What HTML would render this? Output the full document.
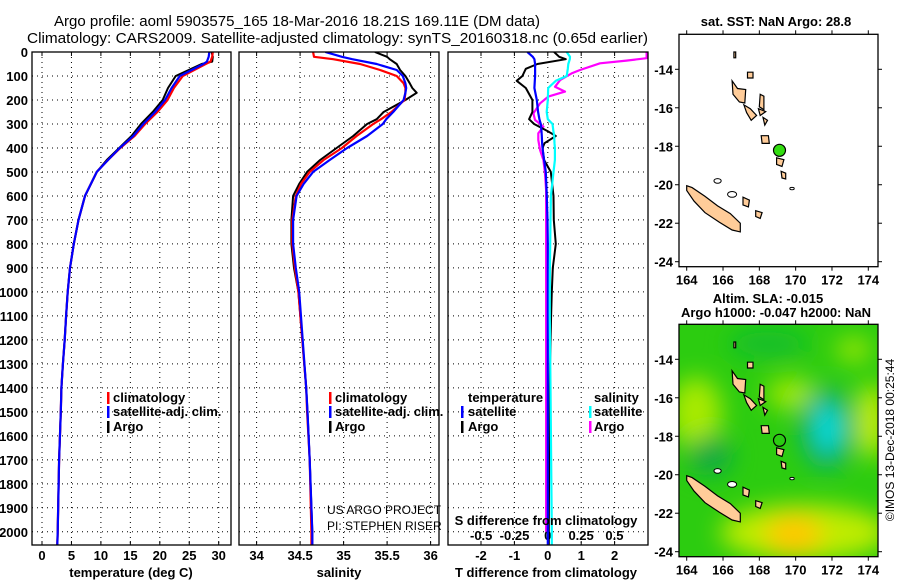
<!DOCTYPE html>
<html><head><meta charset="utf-8">
<style>
html,body{margin:0;padding:0;background:#fff;}
svg{display:block;font-family:"Liberation Sans",sans-serif;}
.t{font-weight:bold;font-size:13px;fill:#000;}
.tl{font-size:13px;fill:#000;font-weight:bold;}
</style></head>
<body>
<svg id="c" width="900" height="580" viewBox="0 0 900 580" xmlns="http://www.w3.org/2000/svg">
<defs>
<filter id="blur" x="-50%" y="-50%" width="200%" height="200%"><feGaussianBlur stdDeviation="12"/></filter>
<clipPath id="m2clip"><rect x="679" y="324" width="199" height="233"/></clipPath>
<clipPath id="p1clip"><rect x="32" y="52" width="199" height="493"/></clipPath>
<clipPath id="p2clip"><rect x="239" y="52" width="200" height="493"/></clipPath>
<clipPath id="p3clip"><rect x="448" y="52" width="200" height="493"/></clipPath>
</defs>
<text x="54" y="26" font-size="14.5" textLength="486" lengthAdjust="spacingAndGlyphs">Argo profile: aoml 5903575_165 18-Mar-2016 18.21S 169.11E (DM data)</text>
<text x="27" y="43" font-size="14.5" textLength="621" lengthAdjust="spacingAndGlyphs">Climatology: CARS2009. Satellite-adjusted climatology: synTS_20160318.nc (0.65d earlier)</text>
<g id="g"></g>
</svg>
<script>
// ---- data ----
var depthTicks = [0,100,200,300,400,500,600,700,800,900,1000,1100,1200,1300,1400,1500,1600,1700,1800,1900,2000];
var tempTicks = [0,5,10,15,20,25,30];
var salTicks = [34,34.5,35,35.5,36];
var salTickLabels = ['34','34.5','35','35.5','36'];
var tdTicks = [-2,-1,0,1,2];
var sdTicks = [-0.5,-0.25,0,0.25,0.5];
var sdTickLabels = ['-0.5','-0.25','0','0.25','0.5'];

var tDepth   = [0,20,40,50,100,150,200,250,300,350,400,450,500,600,700,800,900,1000,1100,1200,1300,1400,1500,1700,2000,2055];
var tClim    = [29.0,28.9,28.6,27.8,23.9,22.4,21.3,19.6,17.5,15.7,13.3,11.2,9.3,7.3,6.2,5.4,4.75,4.36,4.1,3.85,3.55,3.3,3.2,2.9,2.67,2.6];
var tSat     = [28.4,28.3,28.0,27.4,23.4,22.0,20.9,19.2,17.2,15.5,13.2,11.2,9.3,7.3,6.2,5.4,4.75,4.36,4.1,3.85,3.55,3.3,3.2,2.9,2.67,2.6];
var tArgo    = [28.8,29.0,28.9,27.1,22.7,21.4,20.5,18.8,16.8,15.2,13.1,11.0,9.3,7.3,6.2,5.4,4.75,4.36,4.1,3.85,3.55,3.3,3.2,2.9,2.67,2.6];

var sDepth = [0,20,30,50,75,100,130,150,170,200,250,280,300,350,400,450,500,550,600,700,800,900,1000,1400,1500,1700,2000,2055];
var sClim  = [34.65,34.66,34.88,35.19,35.42,35.61,35.69,35.71,35.71,35.70,35.55,35.43,35.34,35.15,34.98,34.77,34.61,34.51,34.45,34.41,34.41,34.44,34.48,34.57,34.58,34.61,34.63,34.63];
var sSat   = [34.79,34.98,35.10,35.38,35.61,35.68,35.71,35.72,35.71,35.69,35.57,35.49,35.45,35.27,35.04,34.84,34.65,34.54,34.46,34.42,34.42,34.45,34.49,34.57,34.585,34.61,34.64,34.64];
var sArgo  = [35.36,35.50,35.53,35.61,35.65,35.71,35.76,35.79,35.84,35.71,35.46,35.38,35.27,35.11,34.92,34.73,34.58,34.49,34.42,34.40,34.40,34.43,34.48,34.57,34.585,34.61,34.64,34.64];

var dDepth = [0,20,30,50,70,100,120,150,200,250,280,300,330,350,380,400,450,500,600,700,800,900,1000,1100,1400,2000,2055];
var dtSat  = [-0.61,-0.45,-0.4,-0.38,-0.38,-0.38,-0.39,-0.4,-0.33,-0.29,-0.25,-0.21,-0.19,-0.18,-0.17,-0.16,-0.11,-0.06,-0.03,-0.01,0,0,0,0,0,0,0];
var dtArgo = [0.19,0.34,0.54,-0.31,-0.66,-0.76,-0.93,-0.66,-0.46,-0.46,-0.56,-0.41,0.0,0.24,-0.1,-0.16,-0.11,0.09,0.17,0.18,0.24,0.15,0.12,0.1,0.05,0.03,0.03];
var dsSat  = [0.142,0.167,0.165,0.154,0.15,0.142,0.06,0.003,0.0,-0.008,0.0,0.035,0.042,0.048,0.05,0.053,0.053,0.043,0.023,0.02,0.018,0.016,0.015,0.015,0.02,0.03,0.03];
var msDepth = [0,5,26,36,47,75,89,117,145,165,186,214,256,283,311,339,367,409,450,506,575,1000,2000];
var dsArgo  = [0.742,0.742,0.742,0.59,0.392,0.242,0.179,0.092,0.054,0.129,0.004,-0.058,-0.108,-0.096,-0.033,-0.071,-0.071,-0.058,-0.033,-0.021,-0.013,-0.013,-0.013];

var lonTicks = [164,166,168,170,172,174];
var latTicks = [-14,-16,-18,-20,-22,-24];
var argoLon = 169.11, argoLat = -18.21;
var islands = [
 [[164.0,-20.05],[164.3,-20.15],[165.0,-20.6],[165.7,-21.1],[166.4,-21.5],[166.95,-22.0],[166.95,-22.45],[166.5,-22.35],[165.8,-21.95],[165.0,-21.45],[164.4,-20.85],[164.0,-20.3]],
 [[166.5,-14.6],[166.8,-15.0],[167.25,-15.05],[167.2,-15.75],[166.9,-15.7],[166.55,-15.3]],
 [[167.15,-15.85],[167.5,-16.05],[167.85,-16.4],[167.55,-16.65],[167.3,-16.25]],
 [[168.1,-17.45],[168.5,-17.45],[168.55,-17.85],[168.15,-17.85]],
 [[168.95,-18.6],[169.35,-18.7],[169.25,-19.05],[168.95,-18.95]],
 [[169.2,-19.3],[169.45,-19.4],[169.45,-19.7],[169.25,-19.65]],
 [[168.05,-15.3],[168.25,-15.4],[168.25,-16.1],[168.0,-15.95]],
 [[167.95,-16.05],[168.35,-16.2],[168.05,-16.4]],
 [[167.1,-20.65],[167.45,-20.8],[167.4,-21.15],[167.1,-21.05]],
 [[167.8,-21.35],[168.15,-21.45],[168.05,-21.75],[167.8,-21.65]],
 [[167.35,-14.15],[167.65,-14.15],[167.65,-14.45],[167.35,-14.45]],
 [[168.2,-16.5],[168.45,-16.65],[168.3,-16.9]],
 [[166.6,-13.1],[166.7,-13.1],[166.7,-13.4],[166.6,-13.4]]
];
var outlines = [[165.7,-19.8,0.2,0.12],[166.5,-20.5,0.25,0.15],[169.8,-20.2,0.12,0.06]];

// ---- helpers ----
var NS='http://www.w3.org/2000/svg';
var G=document.getElementById('g');
function mk(tag,attrs,parent){var e=document.createElementNS(NS,tag);for(var k in attrs)e.setAttribute(k,attrs[k]);(parent||G).appendChild(e);return e;}
function yD(d){return 52+d*0.2399;}
function xT(t){return 42+t*5.89;}
function xS(s){return 256.6+(s-34)*87;}
function xdT(v){return 547.8+v*33.4;}
function xdS(v){return 547.8+v*133.2;}
function xLon(l){return 686.7+(l-164)*18.16;}
function yLat(l,off){return off+69.3+(-14-l)*19.24;}

var panels=[{x0:32,x1:231,cl:'p1clip',n:'temperature'},{x0:239,x1:439,cl:'p2clip',n:'salinity'},{x0:448,x1:648,cl:'p3clip',n:'difference'}];
var e;
panels.forEach(function(p){
  depthTicks.forEach(function(d){
    e=mk('line',{x1:p.x0,x2:p.x1,y1:yD(d),y2:yD(d),stroke:'#000','stroke-width':1,'stroke-dasharray':'1,4'});
    
    
  });
});
function vgrid(x){
  e=mk('line',{x1:x,x2:x,y1:52,y2:545,stroke:'#000','stroke-width':1,'stroke-dasharray':'1,4'});
  
  
  mk('line',{x1:x,x2:x,y1:52,y2:56,stroke:'#000'});
  mk('line',{x1:x,x2:x,y1:541,y2:545,stroke:'#000'});
}
tempTicks.forEach(function(t){vgrid(xT(t));});
salTicks.forEach(function(s){vgrid(xS(s));});
tdTicks.forEach(function(t){vgrid(xdT(t));});

depthTicks.forEach(function(d){
  e=mk('text',{x:28,y:yD(d)+5,'text-anchor':'end','class':'t'});
  e.textContent=d;
  
  
});
tempTicks.forEach(function(t){
  e=mk('text',{x:xT(t),y:560,'text-anchor':'middle','class':'t'});e.textContent=t;
  
  
});
salTicks.forEach(function(s,i){
  e=mk('text',{x:xS(s),y:560,'text-anchor':'middle','class':'t'});e.textContent=salTickLabels[i];
  
  
});
tdTicks.forEach(function(t){
  e=mk('text',{x:xdT(t),y:560,'text-anchor':'middle','class':'t'});e.textContent=t;
  
  
});
sdTicks.forEach(function(s,i){
  e=mk('text',{x:xdS(s),y:540,'text-anchor':'middle','class':'t'});e.textContent=sdTickLabels[i];
  
  
});

function line(ds,vs,fx,col,clip,name,w){
  var pts=ds.map(function(d,i){return fx(vs[i]).toFixed(1)+','+yD(d).toFixed(1);}).join(' ');
  e=mk('polyline',{points:pts,fill:'none',stroke:col,'stroke-width':w||2.2,'clip-path':'url(#'+clip+')','stroke-linejoin':'round'});
  
  
}
line(tDepth,tArgo,xT,'#000','p1clip','temperature-argo-line',2);
line(tDepth,tClim,xT,'#f00','p1clip','temperature-climatology-line');
line(tDepth,tSat,xT,'#00f','p1clip','temperature-satellite-line');
line(sDepth,sArgo,xS,'#000','p2clip','salinity-argo-line',2);
line(sDepth,sClim,xS,'#f00','p2clip','salinity-climatology-line');
line(sDepth,sSat,xS,'#00f','p2clip','salinity-satellite-line');
line(msDepth,dsArgo,xdS,'#f0f','p3clip','s-diff-argo-line');
line(dDepth,dtArgo,xdT,'#000','p3clip','t-diff-argo-line',2);
line(dDepth,dtSat,xdT,'#00f','p3clip','t-diff-satellite-line');
line(dDepth,dsSat,xdS,'#0ff','p3clip','s-diff-satellite-line');

panels.forEach(function(p){
  e=mk('rect',{x:p.x0,y:52,width:p.x1-p.x0,height:493,fill:'none',stroke:'#000','stroke-width':1.3});
  
  
});

function txt(x,y,s,name,extra){
  e=mk('text',Object.assign({x:x,y:y,'class':'tl'},extra||{}));e.textContent=s;
  
  
  return e;
}
function mark(x,y,col){mk('rect',{x:x,y:y-10,width:2.5,height:12,fill:col});}
txt(131,577,'temperature (deg C)','x-axis-title-temperature',{'text-anchor':'middle'});
txt(339,577,'salinity','x-axis-title-salinity',{'text-anchor':'middle'});
txt(546,577,'T difference from climatology','x-axis-title-t-diff',{'text-anchor':'middle'});
txt(546,525,'S difference from climatology','s-diff-axis-title',{'text-anchor':'middle'});
mark(107,402,'#f00');txt(113,402,'climatology','legend-entry-climatology');
mark(107,416,'#00f');txt(113,416,'satellite-adj. clim.','legend-entry-satellite');
mark(107,431,'#000');txt(113,431,'Argo','legend-entry-argo');
mark(329,402,'#f00');txt(335,402,'climatology','legend-entry-climatology-2');
mark(329,416,'#00f');txt(335,416,'satellite-adj. clim.','legend-entry-satellite-2');
mark(329,431,'#000');txt(335,431,'Argo','legend-entry-argo-2');
txt(468,402,'temperature','legend-header-temperature');
mark(461,416,'#00f');txt(468,416,'satellite','legend-entry-t-satellite');
mark(461,431,'#000');txt(468,431,'Argo','legend-entry-t-argo');
txt(594,402,'salinity','legend-header-salinity');
mark(589,416,'#0ff');txt(594,416,'satellite','legend-entry-s-satellite');
mark(589,431,'#f0f');txt(594,431,'Argo','legend-entry-s-argo');
txt(327,514,'US ARGO PROJECT','project-credit',{style:'font-weight:normal;font-size:12px'});
txt(327,530,'PI: STEPHEN RISER','pi-credit',{style:'font-weight:normal;font-size:12px'});

// ---- maps ----
function drawMap(off,sla){
  var top=34.3+off, h=232.4;
  if(sla){
    var gg=mk('g',{'clip-path':'url(#m2clip)'});
    
    
    mk('rect',{x:679,y:top,width:199,height:h,fill:'#2ccc10'},gg);
    var bl=mk('g',{filter:'url(#blur)'},gg);
    mk('ellipse',{cx:xLon(164.5),cy:yLat(-16.8,off),rx:26,ry:36,fill:'#a8ea00'},bl);
    mk('ellipse',{cx:xLon(169.8),cy:yLat(-15.8,off),rx:26,ry:16,fill:'#a0e800'},bl);
    mk('ellipse',{cx:xLon(174.2),cy:yLat(-17.2,off),rx:14,ry:38,fill:'#d0ee00'},bl);
    mk('ellipse',{cx:xLon(173.2),cy:yLat(-13.5,off),rx:18,ry:12,fill:'#a0e800'},bl);
    mk('ellipse',{cx:xLon(170.5),cy:yLat(-23,off),rx:85,ry:28,fill:'#c0ec00'},bl);
    mk('ellipse',{cx:xLon(169.9),cy:yLat(-23.1,off),rx:28,ry:20,fill:'#ffc800'},bl);
    mk('ellipse',{cx:xLon(165.3),cy:yLat(-19.0,off),rx:22,ry:20,fill:'#11aa44'},bl);
    mk('ellipse',{cx:xLon(168.5),cy:yLat(-13.2,off),rx:40,ry:12,fill:'#11bb33'},bl);
    mk('ellipse',{cx:xLon(171.7),cy:yLat(-17.6,off),rx:26,ry:40,fill:'#11aa77'},bl);
    mk('ellipse',{cx:xLon(171.8),cy:yLat(-17.6,off),rx:14,ry:24,fill:'#11dddd'},bl);
  }
  islands.forEach(function(isl){
    var pts=isl.map(function(p){return xLon(p[0]).toFixed(1)+','+yLat(p[1],off).toFixed(1);}).join(' ');
    e=mk('polygon',{points:pts,fill:'#ffcc99',stroke:'#000','stroke-width':1.2});
    
    
  });
  outlines.forEach(function(o){
    e=mk('ellipse',{cx:xLon(o[0]),cy:yLat(o[1],off),rx:o[2]*18.16,ry:o[3]*19.24,fill:'#fff',stroke:'#000','stroke-width':1});
    
    
  });
  e=mk('circle',{cx:xLon(argoLon),cy:yLat(argoLat,off),r:6,fill:sla?'none':'#33dd11',stroke:'#000','stroke-width':1.2});
  
  
  e=mk('rect',{x:679,y:top,width:199,height:h,fill:'none',stroke:'#000','stroke-width':1.3});
  
  
  lonTicks.forEach(function(l){
    var x=xLon(l);
    mk('line',{x1:x,x2:x,y1:top+h,y2:top+h+4,stroke:'#000'});
    mk('line',{x1:x,x2:x,y1:top,y2:top-4,stroke:'#000'});
    e=mk('text',{x:x,y:top+h+18,'text-anchor':'middle','class':'t'});e.textContent=l;
    
    
  });
  latTicks.forEach(function(l){
    var y=yLat(l,off);
    mk('line',{x1:679,x2:675,y1:y,y2:y,stroke:'#000'});
    mk('line',{x1:878,x2:882,y1:y,y2:y,stroke:'#000'});
    e=mk('text',{x:673,y:y+5,'text-anchor':'end','class':'t'});e.textContent=l;
    
    
  });
}
drawMap(0,false);
drawMap(290,true);
txt(776,26,'sat. SST: NaN Argo: 28.8','sst-map-title',{'text-anchor':'middle'});
txt(768,303,'Altim. SLA: -0.015','sla-map-title',{'text-anchor':'middle'});
txt(776,317,'Argo h1000: -0.047 h2000: NaN','height-anomaly-title',{'text-anchor':'middle'});
e=mk('text',{x:0,y:0,transform:'translate(894,440) rotate(-90)','text-anchor':'middle','font-size':'12'});
e.textContent='\u00A9IMOS 13-Dec-2018 00:25:44';


</script>
</body></html>
